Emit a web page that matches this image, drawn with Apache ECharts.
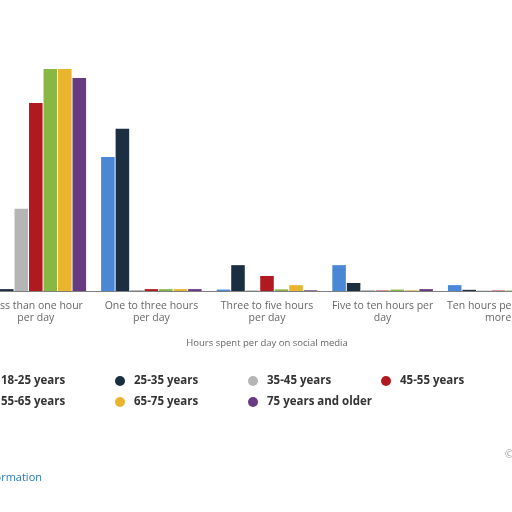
<!DOCTYPE html>
<html>
<head>
<meta charset="utf-8">
<script src="https://cdn.jsdelivr.net/npm/echarts@6/dist/echarts.min.js"></script>
<style>html,body{margin:0;padding:0;background:#fff;overflow:hidden;width:512px;height:512px;}#c{position:absolute;left:-44px;top:0;width:600px;height:512px;}</style>
</head>
<body>
<div id="c"></div>
<script>
const categories = ['Less than one hour\nper day', 'One to three hours\nper day', 'Three to five hours\nper day', 'Five to ten hours per\nday', 'Ten hours per day or\nmore'];
const seriesNames = ['18-25 years', '25-35 years', '35-45 years', '45-55 years', '55-65 years', '65-75 years', '75 years and older'];
const colors = ['#4a88d6', '#1c2e42', '#b5b5b5', '#b0191f', '#8ab743', '#e9b52f', '#683a82'];
const v18_25 = [32, 57, 0.6, 11, 2.5];
const v25_35 = [0.8, 69, 11, 3.4, 0.5];
const v35_45 = [35, 0.4, 0.3, 0.4, 0.2];
const v45_55 = [80, 0.8, 6.4, 0.2, 0.2];
const v55_65 = [94.5, 0.8, 0.7, 0.6, 0.2];
const v65_75 = [94.5, 0.8, 2.5, 0.3, 0.2];
const v75plus = [90.6, 0.8, 0.3, 0.8, 0.2];
const allValues = [v18_25, v25_35, v35_45, v45_55, v55_65, v65_75, v75plus];
const axisTitle = 'Hours spent per day on social media';

const chart = echarts.init(document.getElementById('c'));
// one legend per item so the columns sit on a fixed 133px pitch
const legendCols = [21, 154, 287, 420];
const legendRows = [370, 391];
const legends = seriesNames.map((n, i) => ({
  orient: 'horizontal',
  icon: 'circle',
  itemWidth: 18,
  itemHeight: 10,
  left: legendCols[i % 4],
  top: legendRows[Math.floor(i / 4)],
  data: [n],
  textStyle: { fontFamily: 'Open Sans', fontWeight: 'bold', fontSize: 11.5, color: '#333' }
}));
chart.setOption({
  animation: false,
  color: colors,
  grid: { left: 22, width: 580, top: 56, height: 235, containLabel: false },
  legend: legends,
  xAxis: {
    type: 'category',
    data: categories,
    axisLine: { lineStyle: { color: '#7f7f7f', width: 1 } },
    axisTick: { show: false },
    axisLabel: { color: '#666', fontFamily: 'Open Sans', fontSize: 10.5, lineHeight: 12, margin: 9, interval: 0 },
    name: axisTitle,
    nameLocation: 'middle',
    nameGap: 47,
    nameTextStyle: { color: '#666', fontFamily: 'Open Sans', fontSize: 9.5 }
  },
  yAxis: { type: 'value', min: 0, max: 100, show: false, splitLine: { show: false } },
  graphic: [
    { type: 'text', right: 514, top: 472, style: { text: 'Additional Information', fill: '#2a7ab5', font: '11px "Open Sans"' } },
    { type: 'text', left: 549, top: 450, style: { text: '© Statista', fill: '#999', font: '10px "Open Sans"' } }
  ],
  series: seriesNames.map((n, i) => ({
    name: n,
    type: 'bar',
    data: allValues[i],
    barGap: '7%',
    barCategoryGap: '13%',
    itemStyle: { color: colors[i] }
  }))
});
</script>
</body>
</html>
